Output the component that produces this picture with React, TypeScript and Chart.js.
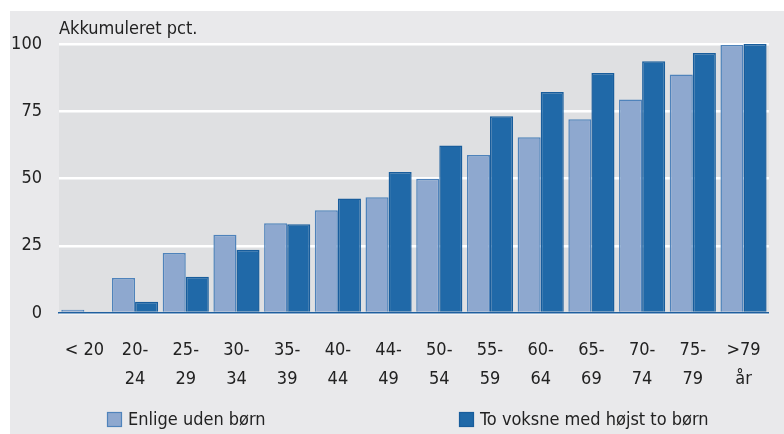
import React, { useEffect, useRef } from "react";
import { Chart, registerables } from "chart.js";

Chart.register(...registerables);

const categories: (string | string[])[] = [
  "< 20", ["20-", "24"], ["25-", "29"], ["30-", "34"], ["35-", "39"], ["40-", "44"],
  ["44-", "49"], ["50-", "54"], ["55-", "59"], ["60-", "64"], ["65-", "69"],
  ["70-", "74"], ["75-", "79"], [">79", "år"],
];
const enligeUdenBorn = [1.2, 13.0, 22.3, 29.1, 33.4, 38.2, 43.0, 49.9, 58.7, 65.3, 72.0, 79.4, 88.7, 99.6];
const toVoksne = [0, 4.2, 13.5, 23.5, 33.0, 42.6, 52.4, 62.3, 73.1, 82.2, 89.2, 93.6, 96.7, 100];
const yTicks = [0, 25, 50, 75, 100];
const yTitle = "Akkumuleret pct.";
const seriesNames = ["Enlige uden børn", "To voksne med højst to børn"];

const FONT = '"Liberation Sans Narrow", "DejaVu Sans Condensed", "Open Sans", sans-serif';
const TEXT = "#222222";
const LIGHT = "#8ea8cf";
const LIGHT_BORDER = "#4f83bb";
const DARK = "#2069a8";
const DARK_BORDER = "#185d9c";

const decorPlugin = {
  id: "decor",
  beforeDraw(chart: any) {
    const { ctx, chartArea } = chart;
    ctx.save();
    ctx.fillStyle = "#dfe0e2";
    ctx.fillRect(chartArea.left, chartArea.top, chartArea.right - chartArea.left, chartArea.bottom - chartArea.top);
    ctx.restore();
  },
  afterDraw(chart: any) {
    const { ctx, chartArea } = chart;
    ctx.save();
    ctx.font = `18px ${FONT}`;
    ctx.fillStyle = TEXT;
    ctx.textBaseline = "middle";
    ctx.textAlign = "left";
    ctx.fillText(yTitle, chartArea.left, 18);
    const ds = chart.data.datasets;
    const xs = [chartArea.left + 48, chartArea.left + 400];
    const y = 401;
    ds.forEach((d: any, i: number) => {
      ctx.fillStyle = d.backgroundColor;
      ctx.fillRect(xs[i], y, 15, 15);
      ctx.strokeStyle = d.borderColor;
      ctx.lineWidth = 1.2;
      ctx.strokeRect(xs[i] + 0.5, y + 0.5, 14, 14);
      ctx.fillStyle = TEXT;
      ctx.fillText(d.label, xs[i] + 21, y + 8);
    });
    ctx.restore();
  },
};

export default function App() {
  const ref = useRef<HTMLCanvasElement>(null);
  useEffect(() => {
    if (!ref.current) return;
    const chart = new Chart(ref.current, {
      type: "bar",
      data: {
        labels: categories,
        datasets: [
          {
            label: seriesNames[0],
            data: enligeUdenBorn,
            backgroundColor: LIGHT,
            borderColor: LIGHT_BORDER,
            borderWidth: 1.5,
          },
          {
            label: seriesNames[1],
            data: toVoksne,
            backgroundColor: DARK,
            borderColor: DARK_BORDER,
            borderWidth: 1.5,
          },
        ],
      },
      options: {
        animation: false,
        responsive: false,
        maintainAspectRatio: false,
        layout: { padding: { top: 33, right: 11, bottom: 0, left: 0 } },
        datasets: { bar: { categoryPercentage: 0.91, barPercentage: 1 } },
        plugins: { legend: { display: false }, tooltip: { enabled: false } },
        scales: {
          x: {
            grid: { display: false, drawTicks: false },
            border: { display: true, color: "#1f5f9e", width: 1.5 },
            ticks: {
              color: TEXT,
              font: { family: FONT, size: 18, lineHeight: 1.6 },
              padding: 23,
              maxRotation: 0,
              autoSkip: false,
            },
            afterFit(scale: any) {
              scale.height = 121;
            },
          },
          y: {
            min: 0,
            max: 100,
            afterBuildTicks(scale: any) {
              scale.ticks = yTicks.map((v) => ({ value: v }));
            },
            grid: { color: "#ffffff", lineWidth: 2.5, drawTicks: false },
            border: { display: false },
            ticks: {
              color: TEXT,
              font: { family: FONT, size: 18 },
              padding: 17,
            },
            afterFit(scale: any) {
              scale.width = 49;
            },
          },
        },
      },
      plugins: [decorPlugin],
    });
    return () => chart.destroy();
  }, []);
  return (
    <div style={{ position: "fixed", left: 0, top: 0, width: 784, height: 434, background: "#ffffff" }}>
      <div style={{ position: "absolute", left: 10, top: 11, width: 774, height: 423, background: "#e9e9eb" }}>
        <canvas ref={ref} width={774} height={423} style={{ display: "block" }} />
      </div>
    </div>
  );
}
